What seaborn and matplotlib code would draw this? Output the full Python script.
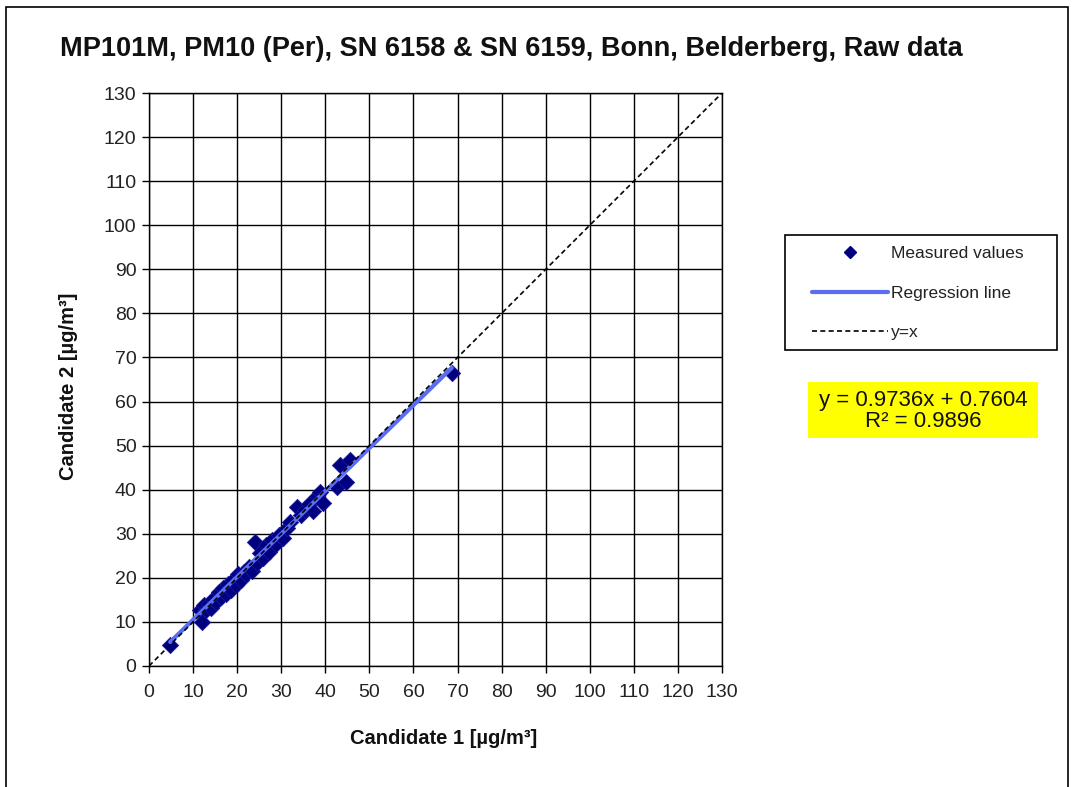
import matplotlib
matplotlib.use('Agg')
import matplotlib.pyplot as plt
import seaborn as sn
import numpy as np
import pandas as pd
from matplotlib.lines import Line2D
from matplotlib.patches import Rectangle

cand1 = [4.8, 11.6, 12.0, 12.4, 12.9, 13.5, 14.1, 14.6, 15.2, 15.8, 16.3, 16.9, 17.4, 18.0,
         18.6, 19.1, 19.7, 20.3, 20.9, 21.5, 22.1, 22.7, 23.3, 24.0, 24.6, 25.2, 25.9, 26.6,
         27.3, 28.0, 28.8, 29.5, 30.3, 31.2, 32.1, 33.5, 34.4, 35.4, 36.3, 37.3, 38.2, 38.8,
         39.5, 42.6, 43.3, 44.8, 45.6, 68.7]
cand2 = [4.8, 12.8, 10.0, 13.9, 12.6, 14.0, 13.2, 15.1, 14.5, 16.9, 15.7, 17.8, 16.4, 18.5,
         17.2, 19.6, 18.4, 20.9, 19.5, 21.4, 20.8, 22.5, 21.6, 28.2, 23.4, 25.6, 24.5, 27.4,
         25.9, 28.6, 27.6, 29.8, 29.1, 31.2, 32.6, 36.1, 34.3, 35.4, 36.8, 35.2, 38.6, 39.5,
         37.0, 40.7, 45.6, 41.8, 46.7, 66.4]
slope = 0.9736
intercept = 0.7604
r2 = 0.9896
axis_max = 130
ticks = list(range(0, 131, 10))

df = pd.DataFrame({'c1': cand1, 'c2': cand2})
xr = np.array([min(cand1), max(cand1)])
reg = pd.DataFrame({'x': xr, 'y': slope * xr + intercept})
diag = pd.DataFrame({'x': [0, axis_max], 'y': [0, axis_max]})

sn.set_style('white')
plt.rcParams['font.family'] = ['Liberation Sans', 'DejaVu Sans']

W, H = 1073, 787
fig = plt.figure(figsize=(W / 100, H / 100), dpi=100)
ax = fig.add_axes([149 / W, 1 - 666 / H, 573 / W, 573 / H])

reg_col = '#5a6cf0'
sn.scatterplot(data=df, x='c1', y='c2', marker='D', s=70, color='#000080',
               edgecolor='#1a1a9a', linewidth=0.5, ax=ax, zorder=3)
sn.lineplot(data=reg, x='x', y='y', color=reg_col, lw=3, ax=ax, zorder=4)
sn.lineplot(data=diag, x='x', y='y', color='black', lw=1.2, ls=(0, (3, 2)), ax=ax, zorder=5)

ax.set_xlim(0, axis_max)
ax.set_ylim(0, axis_max)
ax.set_xticks(ticks)
ax.set_yticks(ticks)
ax.grid(True, color='black', lw=1)
ax.set_axisbelow(True)
for s in ax.spines.values():
    s.set_color('black')
    s.set_linewidth(1)
ax.tick_params(direction='out', length=5, width=1, color='black', labelsize=14,
               labelcolor='#222222', bottom=True, left=True, pad=4)
ax.tick_params(axis='x', pad=8)
ax.set_xlabel('')
ax.set_ylabel('')
fig.text(444 / W, 1 - 739 / H, 'Candidate 1 [µg/m³]', ha='center', va='center',
         fontsize=14.5, fontweight='bold', color='#111111')
fig.text(69 / W, 1 - 386 / H, 'Candidate 2 [µg/m³]', ha='center', va='center',
         rotation=90, fontsize=14.5, fontweight='bold', color='#111111')

fig.text(511 / W, 1 - 49 / H, 'MP101M, PM10 (Per), SN 6158 & SN 6159, Bonn, Belderberg, Raw data',
         ha='center', va='center', fontsize=19.5, fontweight='bold', color='#111111')

# legend: frame drawn separately so it matches the box size
fig.add_artist(Rectangle((785 / W, 1 - 350 / H), 272 / W, 115 / H, transform=fig.transFigure,
                         fill=True, facecolor='white', edgecolor='black', lw=1.2))
handles = [Line2D([], [], marker='D', color='#000080', ls='none', markersize=6),
           Line2D([], [], color=reg_col, lw=3),
           Line2D([], [], color='black', lw=1.2, ls=(0, (3, 2)))]
leg = fig.legend(handles, ['Measured values', 'Regression line', 'y=x'],
                 loc='upper left', bbox_to_anchor=(812 / W, 1 - 246 / H),
                 fontsize=12.5, frameon=False, handlelength=4.4, handletextpad=0.15,
                 labelspacing=1.4, borderpad=0, borderaxespad=0)
for t in leg.get_texts():
    t.set_color('#222222')

# regression equation in a yellow box
fig.add_artist(Rectangle((808 / W, 1 - 438 / H), 230 / W, 56 / H, transform=fig.transFigure,
                         facecolor='#ffff00', edgecolor='none'))
fig.text(923 / W, 1 - 411 / H, f'y = {slope}x + {intercept}\nR² = {r2}',
         ha='center', va='center', fontsize=16, linespacing=0.95, color='#111111')

# outer chart frame
fig.add_artist(Rectangle((6 / W, -0.05), 1062 / W, 1.05 - 7 / H,
                         transform=fig.transFigure, fill=False, edgecolor='black', lw=1.2))

fig.savefig('out.png', dpi=100)
